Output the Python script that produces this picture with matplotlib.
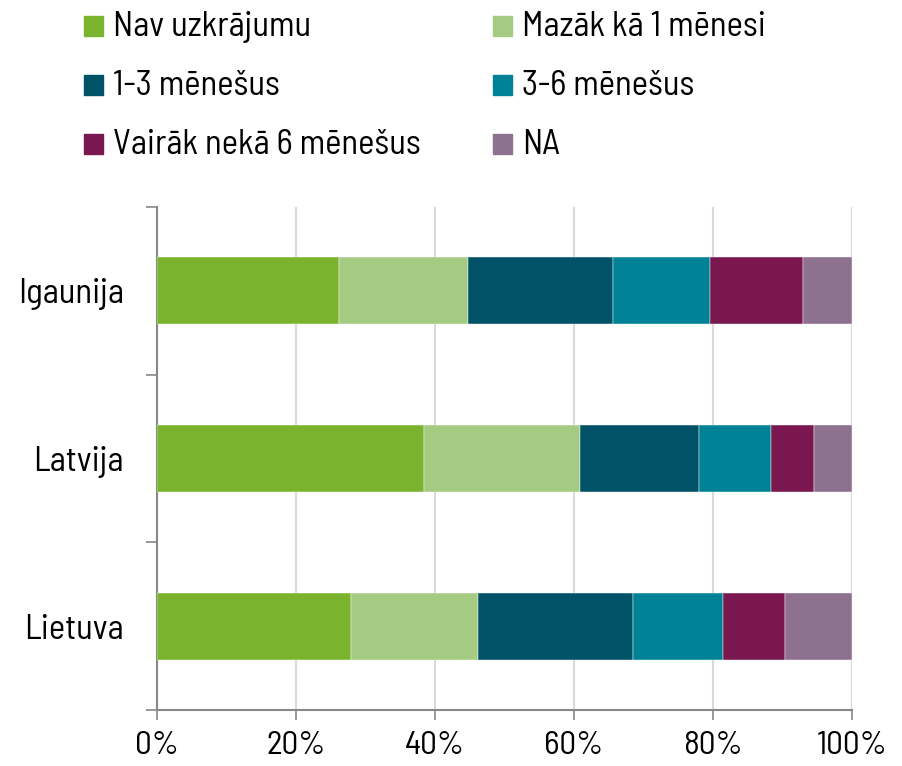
import matplotlib
matplotlib.use("Agg")
import matplotlib.pyplot as plt
from matplotlib.patches import Rectangle
import numpy as np

# Dati: uzkrājumu pietiekamība (% no respondentiem)
countries = ["Igaunija", "Latvija", "Lietuva"]
series_names = ["Nav uzkrājumu", "Mazāk kā 1 mēnesi", "1-3 mēnešus",
                "3-6 mēnešus", "Vairāk nekā 6 mēnešus", "NA"]
nav_uzkr = [26.2, 38.4, 27.9]
mazak_1 = [18.6, 22.4, 18.3]
men_1_3 = [20.8, 17.2, 22.3]
men_3_6 = [13.9, 10.3, 13.0]
vairak_6 = [13.4, 6.2, 8.9]
na_vals = [7.1, 5.5, 9.6]
colors = ["#7AB32E", "#A5CB82", "#005366", "#008296", "#7A1650", "#8D718E"]

plt.rcParams['font.family'] = ['Barlow Semi Condensed', 'DejaVu Sans']
fs = 25

fig = plt.figure(figsize=(9.02, 7.66), dpi=100)
ax = fig.add_axes([157/902, 56/766, 695/902, 503/766])

y = np.arange(len(countries))
left = np.zeros(len(countries))
for vals, col, name in zip([nav_uzkr, mazak_1, men_1_3, men_3_6, vairak_6, na_vals],
                           colors, series_names):
    ax.barh(y, vals, left=left, height=0.4, color=col, label=name,
            edgecolor='white', linewidth=0.3, zorder=3)
    left += np.array(vals)

ax.set_xlim(0, 100)
ax.set_ylim(2.5, -0.5)
ax.set_xticks(range(0, 101, 20))
ax.set_xticklabels([f"{v}%" for v in range(0, 101, 20)], fontsize=24)
ax.set_yticks(y)
ax.set_yticklabels(countries, fontsize=fs)
ax.tick_params(axis='y', length=0, pad=24)
ax.set_yticks([-0.5, 0.5, 1.5, 2.5], minor=True)
ax.tick_params(axis='y', which='minor', length=8, color='#888888', width=1.2, direction='out')
ax.tick_params(axis='x', length=7, color='#888888', width=1.2, pad=8)
ax.grid(axis='x', color='#d9d9d9', linewidth=1.5, zorder=0)
for s in ['top', 'right']:
    ax.spines[s].set_visible(False)
for s in ['left', 'bottom']:
    ax.spines[s].set_color('#888888')
    ax.spines[s].set_linewidth(1.5)

# leģenda: 3 rindas, 2 kolonnas
for i, (name, col) in enumerate(zip(series_names, colors)):
    r, c = i // 2, i % 2
    x0 = (84 + c * 409) / 902
    yc = 1 - (26 + r * 59) / 766
    fig.patches.append(Rectangle((x0, yc - 10/766), 19/902, 20/766,
                                 transform=fig.transFigure, color=col, figure=fig))
    fig.text(x0 + 29/902, yc - 1/766, name, fontsize=fs, va='center', ha='left')

fig.savefig("out.png", dpi=100)
